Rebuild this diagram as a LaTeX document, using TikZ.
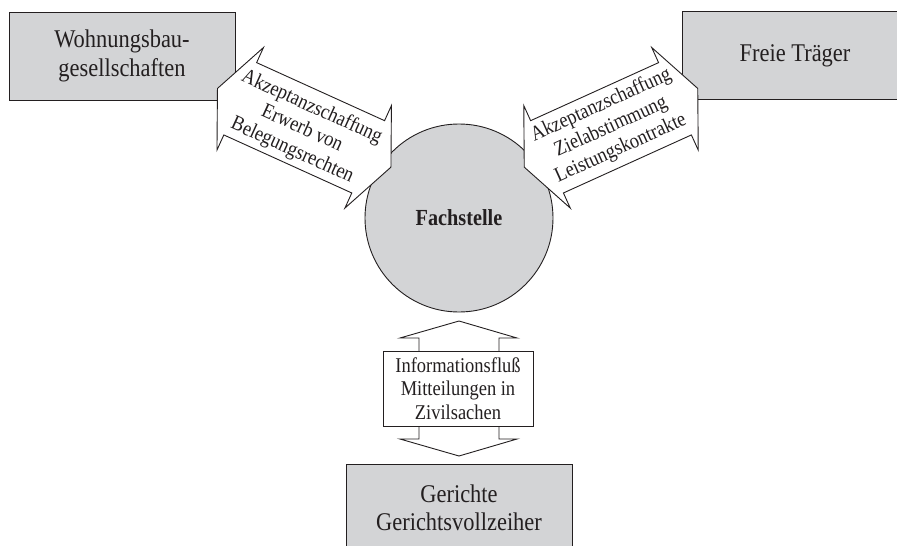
\documentclass[tikz,border=0pt]{standalone}
\usepackage{fontspec}
\setmainfont{Liberation Serif}[FakeStretch=0.88]
\definecolor{boxgray}{RGB}{211,212,214}
\definecolor{ink}{RGB}{35,31,32}
\begin{document}
\begin{tikzpicture}[x=1pt,y=-1pt,
  every node/.style={text=ink},
  unitbox/.style={draw=ink, fill=boxgray, line width=0.9pt,
    minimum width=226pt, minimum height=88pt, align=center,
    font=\fontsize{25.5}{28.5}\selectfont, inner sep=0pt},
  hub/.style={circle, draw=ink, fill=boxgray, line width=0.9pt,
    minimum size=188pt, inner sep=0pt, font=\fontsize{23}{26}\selectfont\bfseries},
  flowarrow/.style={draw=ink, fill=white, line width=0.9pt, line join=miter},
  arrowtext/.style={align=center, font=\fontsize{21}{23.7}\selectfont, inner sep=0pt},
  twoway/.pic={
    \path[flowarrow] (-95.25,0) -- (-70.25,56.3) -- (-70.25,39.7) -- (70.25,39.7)
      -- (70.25,56.3) -- (95.25,0) -- (70.25,-56.3) -- (70.25,-39.7)
      -- (-70.25,-39.7) -- (-70.25,-56.3) -- cycle;
  }]
\useasboundingbox (0,0) rectangle (897,546);

% partner institutions
\node[unitbox] (wohnbau) at (122,56) {Wohnungsbau-\\gesellschaften};
\node[unitbox] (traeger) at (795,55.5) {Freie Träger};
\node[unitbox] (gericht) at (459,508) {Gerichte\\Gerichtsvollzeiher};

% central office
\node[hub] (fach) at (459,218) {Fachstelle};

% two-way relations to the upper partners
\pic[rotate=-24.4] at (304.2,127.8) {twoway};
\pic[rotate=24.4] at (611,127.8) {twoway};
\node[arrowtext, rotate=-24.4] (lefttxt) at (302,129)
  {Akzeptanzschaffung\\Erwerb von\\Belegungsrechten};
\node[arrowtext, rotate=24.4] (righttxt) at (611,127)
  {Akzeptanzschaffung\\Zielabstimmung\\Leistungskontrakte};

% information flow towards the courts
\path[flowarrow] (459,321) -- (517,338) -- (499,338) -- (499,439) -- (517,439)
  -- (459,456) -- (400,439) -- (419,439) -- (419,338) -- (400,338) -- cycle;
\node[draw=ink, fill=white, line width=0.9pt, minimum width=150pt,
  minimum height=75pt, arrowtext] (info) at (458,388.5)
  {Informationsfluß\\Mitteilungen in\\Zivilsachen};
\end{tikzpicture}
\end{document}
